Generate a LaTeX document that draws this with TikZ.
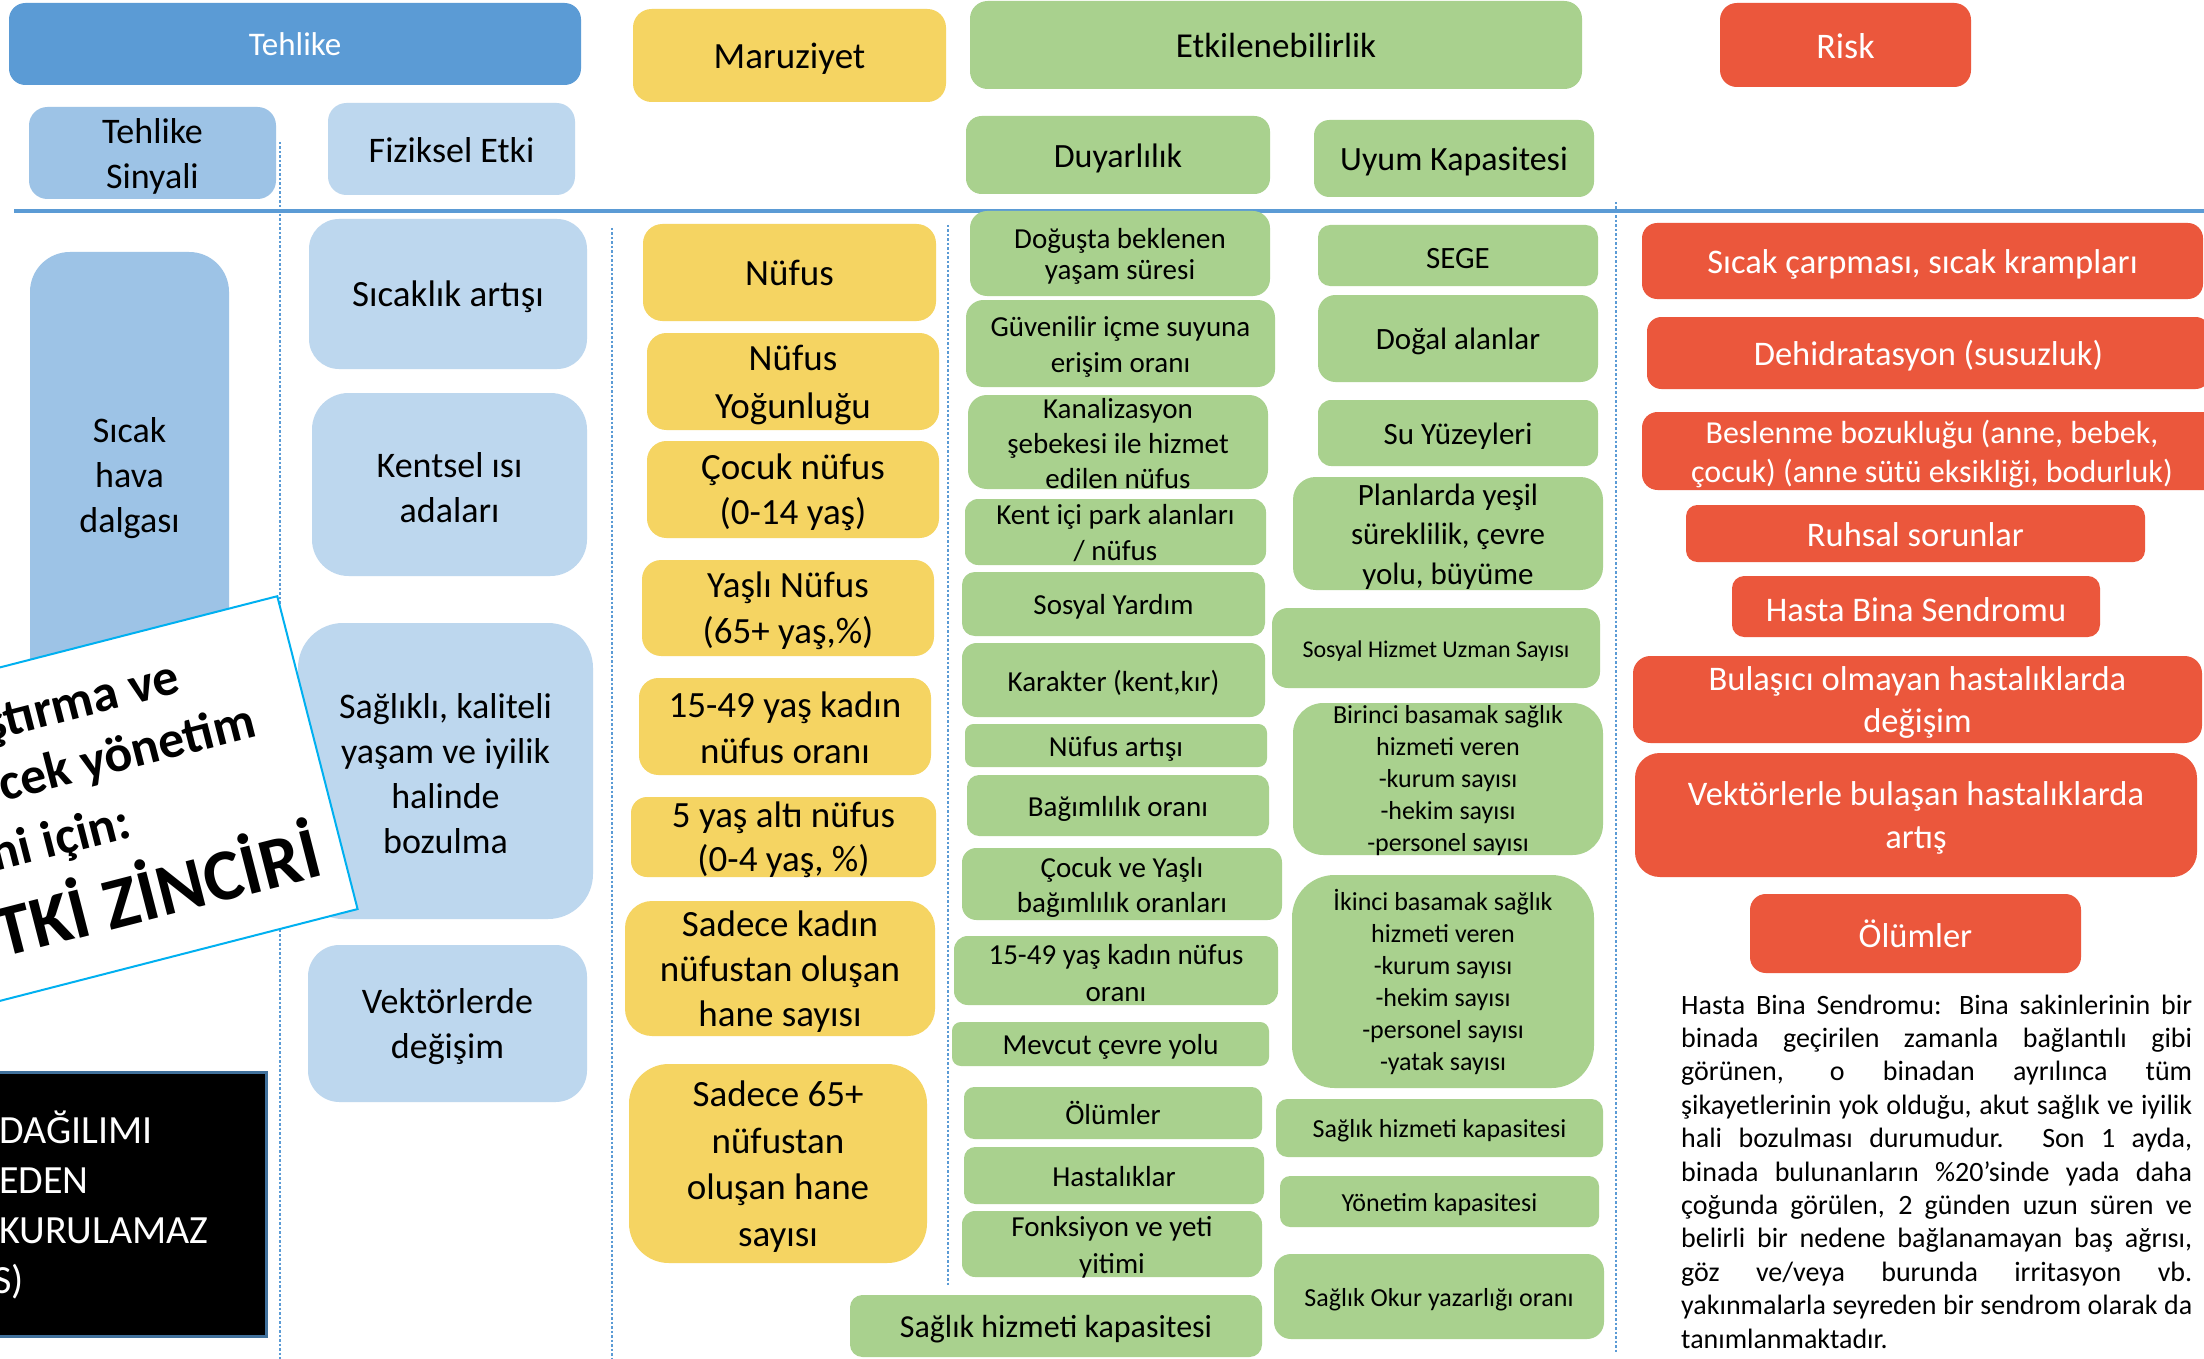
\documentclass[tikz,border=0pt]{standalone}
\usepackage{fontspec}
\setmainfont{Carlito}
\definecolor{hdrblue}{HTML}{5B9BD5}
\definecolor{medblue}{HTML}{9DC3E6}
\definecolor{ltblue}{HTML}{BDD7EE}
\definecolor{yelc}{HTML}{F5D462}
\definecolor{grnc}{HTML}{A9D18E}
\definecolor{redc}{HTML}{EB573C}
\definecolor{cyanc}{HTML}{00B0F0}
\definecolor{blkedge}{HTML}{41719C}
\newcommand\fs[2]{\fontsize{#1}{#2}\selectfont}
\def\tsh{-3pt}
\newcommand\bx[9]{%
  \pgfmathsetmacro\bxw{#5-#3}%
  \pgfmathsetmacro\bxh{#6-#4}%
  \pgfmathsetmacro\bxr{min(45,0.2*min(\bxw,\bxh))}%
  \node[bx,#2,minimum width=\bxw pt,minimum height=\bxh pt,rounded corners=\bxr pt] (#1) at ({(#3+#5)/2},{(#4+#6)/2}) {};%
  \node[bx,#2,fill=none,font=\fs{#7}{#8}] (#1t) at ([yshift=\tsh]#1.center) {#9};%
  \gdef\tsh{-3pt}%
}
\newcommand\pline[4]{\node[anchor=base west,inner sep=0pt,font=\fs{28}{33}] (#1) at (1681,{1014+33.4*#2}) {\makebox[511pt][#3]{#4}};}
\begin{document}
\begin{tikzpicture}[x=1pt,y=-1pt,
  bx/.style={inner sep=0pt,align=center,draw=none},
  tehbox/.style={fill=hdrblue,text=white},
  medbox/.style={fill=medblue,text=black},
  ltbox/.style={fill=ltblue,text=black},
  yelbox/.style={fill=yelc,text=black},
  grnbox/.style={fill=grnc,text=black},
  redbox/.style={fill=redc,text=white},
  sepline/.style={draw=hdrblue,line width=2.5pt,dash pattern=on 2.5pt off 2pt}]
\useasboundingbox (0,0) rectangle (2204,1359);
\clip (0,0) rectangle (2204,1359);
\fill[white] (0,0) rectangle (2204,1359);

% separators
\coordinate (hl1) at (14,211); \coordinate (hl2) at (2204,211);
\draw[hdrblue,line width=4pt] (hl1) -- (hl2);
\coordinate (d1a) at (280,142); \coordinate (d1b) at (280,1359);
\coordinate (d2a) at (612,228); \coordinate (d2b) at (612,1359);
\coordinate (d3a) at (948,225); \coordinate (d3b) at (948,1286);
\coordinate (d4a) at (1616,202); \coordinate (d4b) at (1616,1352);
\draw[sepline] (d1a) -- (d1b);
\draw[sepline] (d2a) -- (d2b);
\draw[sepline] (d3a) -- (d3b);
\draw[sepline] (d4a) -- (d4b);

% headers
\gdef\tsh{0pt}\bx{tehlike}{tehbox}{9}{3}{581}{85}{33}{40}{Tehlike}
\bx{maruz}{yelbox}{633}{9}{946}{102}{37}{45}{Maruziyet}
\gdef\tsh{0pt}\bx{etki}{grnbox}{970}{1}{1582}{89}{35}{42}{Etkilenebilirlik}
\gdef\tsh{-1.5pt}\bx{risk}{redbox}{1720}{3}{1971}{87}{36}{44}{Risk}
\bx{sinyal}{medbox}{29}{107}{276}{199}{36}{45}{Tehlike\\Sinyali}
\gdef\tsh{-1.5pt}\bx{fiziksel}{ltbox}{328}{103}{575}{195}{36}{44}{Fiziksel Etki}
\bx{duyar}{grnbox}{966}{116}{1270}{194}{34}{42}{Duyarlılık}
\bx{uyum}{grnbox}{1314}{120}{1594}{197}{34}{42}{Uyum Kapasitesi}

% column 1
\bx{sicakhava}{medbox}{30}{252}{229}{698}{36}{45}{Sıcak\\hava\\dalgası}

% column 2
\bx{sicaklik}{ltbox}{309}{219}{587}{369}{37}{45}{Sıcaklık artışı}
\bx{kentsel}{ltbox}{312}{393}{587}{576}{36}{45}{Kentsel ısı\\adaları}
\bx{saglikli}{ltbox}{298}{623}{593}{919}{36}{45}{Sağlıklı, kaliteli\\yaşam ve iyilik\\halinde\\bozulma}
\bx{vektor}{ltbox}{308}{945}{587}{1102}{36}{45}{Vektörlerde\\değişim}

% column 3 (yellow)
\gdef\tsh{-0.5pt}\bx{nufus}{yelbox}{643}{224}{936}{321}{37}{45}{Nüfus}
\bx{yogun}{yelbox}{647}{333}{939}{430}{37}{48}{Nüfus\\Yoğunluğu}
\bx{cocuk}{yelbox}{647}{441}{939}{538}{37}{45}{Çocuk nüfus\\(0-14 yaş)}
\bx{yasli}{yelbox}{642}{560}{934}{656}{37}{46}{Yaşlı Nüfus\\(65+ yaş,\%)}
\gdef\tsh{-1.5pt}\bx{kadin}{yelbox}{639}{678}{931}{775}{37}{46}{15-49 yaş kadın\\nüfus oranı}
\bx{besyas}{yelbox}{631}{797}{936}{877}{37}{44}{5 yaş altı nüfus\\(0-4 yaş, \%)}
\bx{sadkadin}{yelbox}{625}{901}{935}{1036}{37}{45}{Sadece kadın\\nüfustan oluşan\\hane sayısı}
\bx{sadyasli}{yelbox}{629}{1064}{927}{1263}{37}{46.5}{Sadece 65+\\nüfustan\\oluşan hane\\sayısı}

% column 4 (Duyarlilik)
\bx{dogus}{grnbox}{970}{211}{1270}{296}{29}{31}{Doğuşta beklenen\\yaşam süresi}
\bx{guven}{grnbox}{966}{300}{1275}{387}{29}{36}{Güvenilir içme suyuna\\erişim oranı}
\gdef\tsh{-1.5pt}\bx{kanal}{grnbox}{968}{395}{1268}{489}{29}{35}{Kanalizasyon\\şebekesi ile hizmet\\edilen nüfus}
\gdef\tsh{-1.5pt}\bx{park}{grnbox}{965}{499}{1266}{565}{29}{36}{Kent içi park alanları\\/ nüfus}
\bx{yardim}{grnbox}{962}{572}{1265}{636}{29}{35}{Sosyal Yardım}
\bx{karakter}{grnbox}{962}{643}{1265}{717}{29}{35}{Karakter (kent,kır)}
\bx{artis}{grnbox}{965}{724}{1267}{767}{29}{35}{Nüfus artışı}
\bx{bagim}{grnbox}{967}{775}{1269}{836}{29}{35}{Bağımlılık oranı}
\bx{cocukyasli}{grnbox}{962}{848}{1282}{920}{29}{35}{Çocuk ve Yaşlı\\bağımlılık oranları}
\bx{kadinb}{grnbox}{954}{936}{1278}{1005}{29}{37}{15-49 yaş kadın nüfus\\oranı}
\bx{cevre}{grnbox}{952}{1022}{1269}{1066}{29}{35}{Mevcut çevre yolu}
\gdef\tsh{0pt}\bx{olum}{grnbox}{964}{1087}{1262}{1139}{29}{35}{Ölümler}
\gdef\tsh{-1pt}\bx{hastalik}{grnbox}{964}{1147}{1264}{1204}{29}{35}{Hastalıklar}
\bx{fonk}{grnbox}{962}{1211}{1262}{1277}{29}{37}{Fonksiyon ve yeti\\yitimi}
\bx{saghiz}{grnbox}{850}{1295}{1262}{1357}{32}{38}{Sağlık hizmeti kapasitesi}

% column 5 (Uyum)
\bx{sege}{grnbox}{1318}{225}{1598}{286}{31}{38}{SEGE}
\bx{dogal}{grnbox}{1318}{295}{1598}{382}{31}{38}{Doğal alanlar}
\bx{su}{grnbox}{1318}{400}{1598}{466}{31}{38}{Su Yüzeyleri}
\bx{plan}{grnbox}{1293}{477}{1603}{590}{31}{39.5}{Planlarda yeşil\\süreklilik, çevre\\yolu, büyüme}
\bx{sosyal}{grnbox}{1272}{608}{1600}{688}{24}{30}{Sosyal Hizmet Uzman Sayısı}
\gdef\tsh{-2pt}\bx{birinci}{grnbox}{1293}{703}{1603}{855}{26}{32}{Birinci basamak sağlık\\hizmeti veren\\-kurum sayısı\\-hekim sayısı\\-personel sayısı}
\gdef\tsh{0pt}\bx{ikinci}{grnbox}{1292}{875}{1594}{1088}{26}{32}{İkinci basamak sağlık\\hizmeti veren\\-kurum sayısı\\-hekim sayısı\\-personel sayısı\\-yatak sayısı}
\bx{saghizb}{grnbox}{1276}{1099}{1603}{1157}{26}{32}{Sağlık hizmeti kapasitesi}
\bx{yonetim}{grnbox}{1280}{1176}{1599}{1227}{26}{32}{Yönetim kapasitesi}
\bx{okur}{grnbox}{1274}{1254}{1604}{1339}{26}{32}{Sağlık Okur yazarlığı oranı}

% column 6 (Risk)
\bx{rsicak}{redbox}{1642}{223}{2203}{299}{34.5}{42}{Sıcak çarpması, sıcak krampları}
\bx{rdehid}{redbox}{1647}{317}{2210}{389}{34.5}{42}{Dehidratasyon (susuzluk)}
\bx{rbes}{redbox}{1642}{412}{2222}{490}{32}{39}{Beslenme bozukluğu (anne, bebek,\\çocuk) (anne sütü eksikliği, bodurluk)}
\gdef\tsh{-1pt}\bx{rruh}{redbox}{1686}{505}{2145}{562}{34.5}{42}{Ruhsal sorunlar}
\bx{rhasta}{redbox}{1732}{576}{2100}{637}{34.5}{42}{Hasta Bina Sendromu}
\bx{rbula}{redbox}{1633}{656}{2202}{743}{34.5}{42}{Bulaşıcı olmayan hastalıklarda\\değişim}
\bx{rvek}{redbox}{1635}{753}{2197}{877}{34.5}{43}{Vektörlerle bulaşan hastalıklarda\\artış}
\gdef\tsh{0pt}\bx{rolum}{redbox}{1750}{894}{2081}{973}{34.5}{42}{Ölümler}

% explanatory paragraph
\pline{p1}{0}{s}{Hasta Bina Sendromu: Bina sakinlerinin bir}
\pline{p2}{1}{s}{binada geçirilen zamanla bağlantılı gibi}
\pline{p3}{2}{s}{görünen, o binadan ayrılınca tüm}
\pline{p4}{3}{s}{şikayetlerinin yok olduğu, akut sağlık ve iyilik}
\pline{p5}{4}{s}{hali bozulması durumudur. Son 1 ayda,}
\pline{p6}{5}{s}{binada bulunanların \%20’sinde yada daha}
\pline{p7}{6}{s}{çoğunda görülen, 2 günden uzun süren ve}
\pline{p8}{7}{s}{belirli bir nedene bağlanamayan baş ağrısı,}
\pline{p9}{8}{s}{göz ve/veya burunda irritasyon vb.}
\pline{p10}{9}{s}{yakınmalarla seyreden bir sendrom olarak da}
\pline{p11}{10}{l}{tanımlanmaktadır.}

% rotated title card
\begin{scope}[shift={(278,595)},rotate=14.4,transform shape]
  \node[draw=cyanc,fill=white,line width=2pt,minimum width=700pt,minimum height=323pt,anchor=north east,inner sep=0pt] (card) at (0,0) {};
  \node[anchor=base east,inner sep=0pt,font=\bfseries\fs{52}{62}] (c1) at (-117,70) {ştırma ve};
  \node[anchor=base east,inner sep=0pt,font=\bfseries\fs{52}{62}] (c2) at (-54,132) {cek yönetim};
  \node[anchor=base east,inner sep=0pt,font=\bfseries\fs{52}{62}] (c3) at (-200,198) {ni için:};
  \node[anchor=base east,inner sep=0pt,font=\bfseries\fs{73}{86}] (c4) at (-24,283) {TKİ ZİNCİRİ};
\end{scope}

% black box
\node[draw=blkedge,fill=black,line width=3pt,minimum width=286pt,minimum height=264pt,inner sep=0pt] (blk) at (123,1204) {};
\node[anchor=base west,inner sep=0pt,text=white,font=\fs{40}{50}] (k1) at (-1,1143) {DAĞILIMI};
\node[anchor=base west,inner sep=0pt,text=white,font=\fs{40}{50}] (k2) at (-1,1193) {EDEN};
\node[anchor=base west,inner sep=0pt,text=white,font=\fs{40}{50}] (k3) at (-1,1243) {KURULAMAZ};
\node[anchor=base west,inner sep=0pt,text=white,font=\fs{40}{50}] (k4) at (-7,1293) {S)};
\end{tikzpicture}
\end{document}
